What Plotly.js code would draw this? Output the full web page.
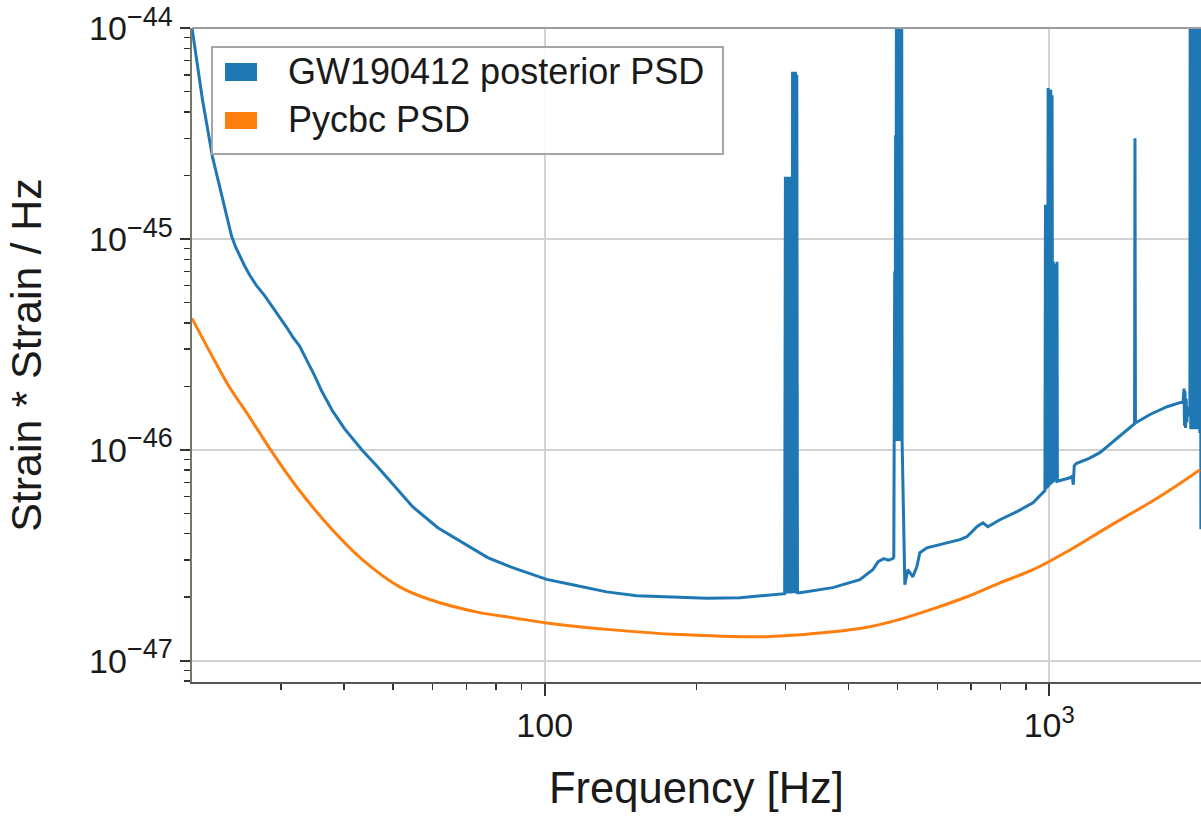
<!DOCTYPE html>
<html>
<head>
<meta charset="utf-8">
<script src="https://cdn.plot.ly/plotly-3.0.1.min.js"></script>
<style>html,body{margin:0;padding:0;background:#fff;}#plot{width:1201px;height:818px;}</style>
</head>
<body>
<div id="plot"></div>
<script>
// ---- data ----
const posteriorFreq = [
  20, 20.98, 21.96, 22.99, 23.5, 23.95, 24.39, 24.84, 25.42, 26.0, 26.85, 27.86, 28.88, 29.83, 30.8, 31.64, 32.68, 33.43, 34.2, 35.15, 36.1, 37.98, 40.1, 43.57, 46.45, 49.3, 54.74, 61.4, 68.8, 77.1, 86.4, 100.9, 113.6, 132.7, 152.2, 185.2, 210, 243.6, 270, 299,
  300, 301, 302, 303, 304, 305, 306, 307, 308, 309, 310, 311, 312, 313, 314, 315, 316, 317,
  320.4, 372.5, 421.2, 447, 458, 470, 480, 490,
  492, 494, 495, 496, 497, 498, 499, 500, 501, 502, 503, 504, 505, 506, 507, 508, 509, 510, 511,
  517.4, 524.5, 536.6, 546.5, 554.1, 572.1, 607.3, 665.2, 686.8, 719, 738.9, 755.9, 798.5, 863, 928.3, 980.6,
  983, 986, 989, 992, 995, 998, 1001, 1004, 1007, 1010, 1013, 1016, 1019, 1022, 1025, 1028, 1031, 1034, 1036, 1038,
  1099, 1111, 1116, 1121, 1131, 1200, 1260, 1362, 1466,
  1476, 1479, 1482,
  1584, 1712, 1842,
  1850, 1854, 1858, 1863, 1868, 1874, 1882, 1892, 1900,
  1903, 1908, 1913, 1918, 1923, 1928, 1933, 1938, 1943, 1948, 1953, 1958, 1963, 1968, 1973, 1978, 1983, 1988, 1993, 1998
];
const posteriorPSD = [
  1.0e-44, 4.57e-45, 2.45e-45, 1.53e-45, 1.22e-45, 1.035e-45, 9.18e-46, 8.32e-46, 7.46e-46, 6.76e-46, 6.0e-46, 5.38e-46, 4.77e-46, 4.28e-46, 3.81e-46, 3.44e-46, 3.10e-46, 2.79e-46, 2.51e-46, 2.20e-46, 1.91e-46, 1.53e-46, 1.26e-46, 9.9e-47, 8.4e-47, 7.14e-47, 5.37e-47, 4.27e-47, 3.63e-47, 3.08e-47, 2.76e-47, 2.43e-47, 2.29e-47, 2.12e-47, 2.03e-47, 1.99e-47, 1.98e-47, 1.99e-47, 2.03e-47, 2.08e-47,
  1.97e-45, 2.08e-47, 1.97e-45, 2.08e-47, 1.97e-45, 2.08e-47, 1.97e-45, 2.08e-47, 1.97e-45, 2.09e-47, 6.2e-45, 2.09e-47, 6.2e-45, 2.09e-47, 6.2e-45, 2.09e-47, 6.0e-45, 2.1e-47,
  2.10e-47, 2.22e-47, 2.42e-47, 2.70e-47, 2.95e-47, 3.05e-47, 3.0e-47, 3.05e-47,
  3.1e-47, 7e-46, 1.2e-46, 3.1e-45, 1.1e-46, 2e-44, 1.1e-46, 2e-44, 1.1e-46, 2e-44, 1.1e-46, 2e-44, 1.1e-46, 2e-44, 1.1e-46, 2e-44, 1.1e-46, 2e-44, 1.1e-46,
  2.29e-47, 2.70e-47, 2.50e-47, 2.79e-47, 3.25e-47, 3.43e-47, 3.55e-47, 3.75e-47, 3.87e-47, 4.32e-47, 4.51e-47, 4.32e-47, 4.66e-47, 5.09e-47, 5.61e-47, 6.40e-47,
  1.45e-45, 6.5e-47, 1.4e-45, 6.6e-47, 5.2e-45, 6.7e-47, 5.0e-45, 6.8e-47, 5.1e-45, 6.9e-47, 4.8e-45, 7.0e-47, 7.8e-46, 7.0e-47, 7.6e-46, 7.1e-47, 7.5e-46, 7.1e-47, 7.8e-46, 7.1e-47,
  7.37e-47, 7.5e-47, 6.83e-47, 8.4e-47, 8.6e-47, 9.1e-47, 9.69e-47, 1.13e-46, 1.32e-46,
  1.33e-46, 3.0e-45, 1.34e-46,
  1.47e-46, 1.60e-46, 1.69e-46,
  1.95e-46, 1.3e-46, 1.9e-46, 1.27e-46, 1.75e-46, 1.35e-46, 1.6e-46, 1.5e-46, 1.45e-46,
  2e-44, 1.25e-46, 2e-44, 1.25e-46, 2e-44, 1.25e-46, 2e-44, 1.25e-46, 2e-44, 1.25e-46, 2e-44, 1.25e-46, 2e-44, 1.25e-46, 2e-44, 1.25e-46, 2e-44, 1.2e-46, 2e-44, 4.2e-47
];
const pycbcFreq = [20, 21.96, 23.7, 25.66, 28.88, 32.23, 37.47, 43.57, 51.6, 59.2, 74.3, 86.4, 100.9, 136.4, 185.2, 275.5, 372.5, 435, 505.8, 588, 686.8, 798.5, 928.3, 1099, 1260, 1406, 1584, 1800, 1990];
const pycbcPSD = [4.2e-46, 2.76e-46, 1.99e-46, 1.50e-46, 9.69e-47, 6.68e-47, 4.32e-47, 3.01e-47, 2.24e-47, 1.95e-47, 1.69e-47, 1.60e-47, 1.51e-47, 1.40e-47, 1.33e-47, 1.30e-47, 1.37e-47, 1.44e-47, 1.57e-47, 1.76e-47, 2.01e-47, 2.34e-47, 2.70e-47, 3.35e-47, 4.08e-47, 4.77e-47, 5.62e-47, 6.83e-47, 8.04e-47];

const seriesNames = ['GW190412 posterior PSD', 'Pycbc PSD'];
const seriesColors = ['#1f77b4', '#ff7f0e'];

const xTickVals = [100, 1000];
const xTickText = ['100', '10<sup>3</sup>'];
const xMinorVals = [30, 40, 50, 60, 70, 80, 90, 200, 300, 400, 500, 600, 700, 800, 900];
const yTickVals = [1e-47, 1e-46, 1e-45, 1e-44];
const yTickExp = ['\u221247', '\u221246', '\u221245', '\u221244'];
const yMinorVals = [8e-48, 9e-48, 2e-47, 3e-47, 4e-47, 5e-47, 6e-47, 7e-47, 8e-47, 9e-47,
  2e-46, 3e-46, 4e-46, 5e-46, 6e-46, 7e-46, 8e-46, 9e-46,
  2e-45, 3e-45, 4e-45, 5e-45, 6e-45, 7e-45, 8e-45, 9e-45];

// ---- figure ----
const FONT = '"Liberation Sans", Arial, Helvetica, sans-serif';
const W = 1201, H = 818, ML = 192, MR = 0, MT = 28, MB = 136;
const PW = W - ML - MR, PH = H - MT - MB;
const px = x => (x - ML) / PW;
const py = y => (H - MB - y) / PH;

const yTickText = yTickExp.map(e => '10<sup><span style="font-size:27px">' + e + '</span></sup>');

const traces = [
  {x: posteriorFreq, y: posteriorPSD, type: 'scatter', mode: 'lines', name: seriesNames[0],
   line: {color: seriesColors[0], width: 3}, showlegend: false},
  {x: pycbcFreq, y: pycbcPSD, type: 'scatter', mode: 'lines', name: seriesNames[1],
   line: {color: seriesColors[1], width: 3, shape: 'spline', smoothing: 0.8}, showlegend: false}
];

const legendShapes = [
  {type: 'rect', xref: 'paper', yref: 'paper', x0: px(212), x1: px(723), y0: py(154), y1: py(47),
   line: {color: '#a6a6a6', width: 2}, fillcolor: 'rgba(255,255,255,0.9)', layer: 'above'},
  {type: 'rect', xref: 'paper', yref: 'paper', x0: px(225), x1: px(257), y0: py(81), y1: py(63),
   line: {width: 0}, fillcolor: seriesColors[0], layer: 'above'},
  {type: 'rect', xref: 'paper', yref: 'paper', x0: px(225), x1: px(257), y0: py(129), y1: py(112),
   line: {width: 0}, fillcolor: seriesColors[1], layer: 'above'},
  {type: 'line', xref: 'paper', yref: 'paper', x0: 0, x1: 1, y0: 1, y1: 1,
   line: {color: '#9c9c9c', width: 2}, layer: 'above'}
];

const legendText = seriesNames.map((t, i) => ({
  text: t, xref: 'paper', yref: 'paper', x: px(286), y: py(i === 0 ? 72 : 120),
  xanchor: 'left', yanchor: 'middle', showarrow: false,
  font: {family: FONT, size: 36, color: '#1a1a1a'}
}));

const layout = {
  width: W, height: H,
  margin: {l: ML, r: MR, t: MT, b: MB, pad: 0},
  paper_bgcolor: '#ffffff', plot_bgcolor: '#ffffff',
  font: {family: FONT, color: '#1a1a1a'},
  showlegend: false,
  xaxis: {
    type: 'log', range: [Math.log10(20), Math.log10(1999)], autorange: false,
    tickmode: 'array', tickvals: xTickVals, ticktext: xTickText,
    ticks: 'outside', ticklen: 12, tickwidth: 2, tickcolor: '#333',
    tickfont: {family: FONT, size: 34, color: '#1a1a1a'},
    showgrid: true, gridcolor: '#d2d2d2', gridwidth: 2,
    showline: true, linecolor: '#555', linewidth: 2, zeroline: false,
    minor: {tickmode: 'array', tickvals: xMinorVals, ticks: 'outside', ticklen: 6, tickwidth: 1.5, tickcolor: '#333', showgrid: false},
    title: {text: 'Frequency [Hz]', font: {family: FONT, size: 43.5, color: '#1a1a1a'}, standoff: 30},
    automargin: false
  },
  yaxis: {
    type: 'log', range: [-47.101, -44], autorange: false,
    tickmode: 'array', tickvals: yTickVals, ticktext: yTickText,
    ticks: 'outside', ticklen: 10, tickwidth: 2, tickcolor: '#333',
    tickfont: {family: FONT, size: 34, color: '#1a1a1a'},
    showgrid: true, gridcolor: '#d2d2d2', gridwidth: 2,
    showline: true, linecolor: '#7d7268', linewidth: 2.5, zeroline: false,
    minor: {tickmode: 'array', tickvals: yMinorVals, ticks: 'outside', ticklen: 6, tickwidth: 1.5, tickcolor: '#333', showgrid: false},
    title: {text: 'Strain * Strain / Hz', font: {family: FONT, size: 43, color: '#1a1a1a'}, standoff: 34},
    automargin: false
  },
  shapes: legendShapes,
  annotations: legendText
};

Plotly.newPlot('plot', traces, layout, {displayModeBar: false, staticPlot: true});
</script>
</body>
</html>
